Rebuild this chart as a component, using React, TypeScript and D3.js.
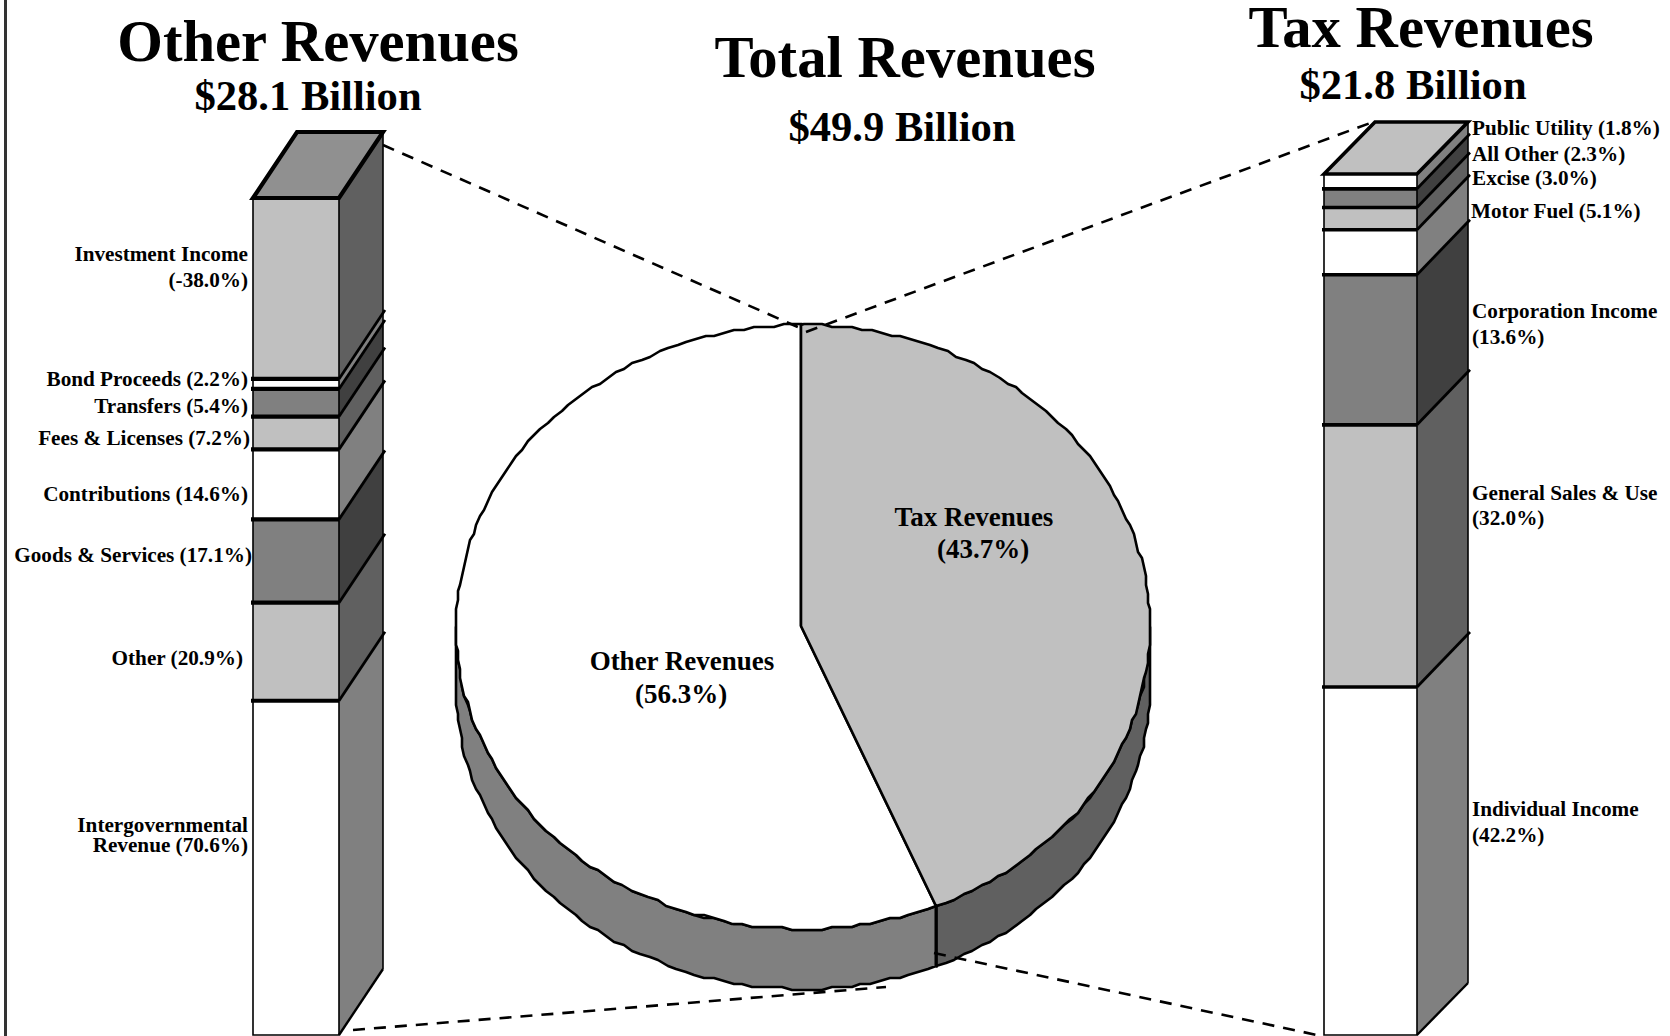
import React from "react";
import * as d3 from "d3";

const pieNames = ["Other Revenues", "Tax Revenues"];
const pieShares = [56.3, 43.7];

const otherCats = ["Investment Income", "Bond Proceeds", "Transfers", "Fees & Licenses", "Contributions", "Goods & Services", "Other", "Intergovernmental Revenue"];
// Heights as drawn in the picture; the printed labels differ slightly.
const otherDrawn = [38.0, 2.1, 5.8, 6.9, 14.7, 17.5, 20.6, 70.2];
const otherFronts = ["#c0c0c0", "#ffffff", "#808080", "#c0c0c0", "#ffffff", "#808080", "#c0c0c0", "#ffffff"];

const taxCats = ["Public Utility", "All Other", "Excise", "Motor Fuel", "Corporation Income", "General Sales & Use", "Individual Income"];
// Heights as drawn in the picture; the printed labels differ for some segments.
const taxDrawn = [1.8, 2.27, 2.7, 5.45, 18.2, 31.8, 42.2];
const taxFronts = ["#ffffff", "#808080", "#c0c0c0", "#ffffff", "#808080", "#c0c0c0", "#ffffff"];

const sideOf: Record<string, string> = { "#ffffff": "#808080", "#c0c0c0": "#606060", "#808080": "#404040" };

const FONT = "'Liberation Serif', 'Times New Roman', serif";

type Lbl = { lines: string[]; x: number; y: number[] };
const otherLabels: Lbl[] = [
  { lines: ["Investment Income", "(-38.0%)"], x: 248, y: [261, 287] },
  { lines: ["Bond Proceeds (2.2%)"], x: 248, y: [386] },
  { lines: ["Transfers (5.4%)"], x: 248, y: [413] },
  { lines: ["Fees & Licenses (7.2%)"], x: 250, y: [445] },
  { lines: ["Contributions (14.6%)"], x: 248, y: [501] },
  { lines: ["Goods & Services (17.1%)"], x: 252, y: [562] },
  { lines: ["Other (20.9%)"], x: 243, y: [665] },
  { lines: ["Intergovernmental", "Revenue (70.6%)"], x: 248, y: [832, 852] },
];
const taxLabels: Lbl[] = [
  { lines: ["Public Utility (1.8%)"], x: 1472, y: [135] },
  { lines: ["All Other (2.3%)"], x: 1472, y: [161] },
  { lines: ["Excise (3.0%)"], x: 1472, y: [185] },
  { lines: ["Motor Fuel (5.1%)"], x: 1471, y: [218] },
  { lines: ["Corporation Income", "(13.6%)"], x: 1472, y: [318, 344] },
  { lines: ["General Sales & Use", "(32.0%)"], x: 1472, y: [500, 525] },
  { lines: ["Individual Income", "(42.2%)"], x: 1472, y: [816, 842] },
];

function stackBar(shares: number[], y0: number, y1: number) {
  const y = d3.scaleLinear().domain([0, d3.sum(shares)]).range([y0, y1]);
  let c = 0;
  return shares.map((s) => {
    const a = y(c);
    c += s;
    return [a, y(c)];
  });
}

function Bar({ x0, x1, dx, dy, top, bottom, shares, fronts, topFill, rule }: any) {
  const segs = stackBar(shares, top, bottom);
  return (
    <g>
      {segs.map(([a, b]: number[], i: number) => (
        <path key={"s" + i} d={`M${x1},${a}L${x1 + dx},${a - dy}L${x1 + dx},${b - dy}L${x1},${b}Z`} fill={sideOf[fronts[i]]} stroke="none" />
      ))}
      {segs.map(([a, b]: number[], i: number) => (
        <rect key={"f" + i} x={x0} y={a} width={x1 - x0} height={b - a} fill={fronts[i]} stroke="none" />
      ))}
      <path d={`M${x0},${top}V${bottom}H${x1}V${top}`} fill="none" stroke="#000" strokeWidth={1.6} />
      <path d={`M${x1 + dx},${top - dy}V${bottom - dy}`} fill="none" stroke="#000" strokeWidth={1.6} />
      <path d={`M${x1 + dx},${bottom - dy}L${x1},${bottom}`} fill="none" stroke="#000" strokeWidth={2.4} />
      <path d={`M${x0},${top}L${x0 + dx},${top - dy}L${x1 + dx},${top - dy}L${x1},${top}Z`} fill={topFill} stroke="#000" strokeWidth={rule} strokeLinejoin="miter" />
      {segs.slice(0, -1).map(([, b]: number[], i: number) => (
        <g key={"b" + i}>
          <line x1={x0 - 2} x2={x1} y1={b} y2={b} stroke="#000" strokeWidth={rule} />
          <line x1={x1} y1={b} x2={x1 + dx + 2} y2={b - dy - 3} stroke="#000" strokeWidth={2.8} />
        </g>
      ))}
    </g>
  );
}

const cx = 803, cy = 627, rx = 347, ry = 302, depth = 60;
const spineX = cx - 2;
const rim = (t: number, off = 0): [number, number] => {
  const x = cx + rx * Math.sin(t);
  const y = cy + off - ry * Math.cos(t);
  return [Math.round(x / 2) * 2, Math.round(y / 3) * 3];
};
const arcPts = (a: number, b: number, off = 0) => {
  const n = Math.max(2, Math.round(Math.abs(b - a) / (Math.PI / 110)));
  return d3.range(n + 1).map((i) => rim(a + ((b - a) * i) / n, off));
};
const line = d3.line();

export default function App() {
  // clockwise from the top: Tax first, then Other (as in the picture)
  const taxEnd = (pieShares[1] / d3.sum(pieShares)) * 2 * Math.PI;
  const topPt = [spineX, cy - ry];
  const otherPath = line([[spineX, cy - 1], ...arcPts(taxEnd, 2 * Math.PI), topPt] as any) + "Z";
  const taxPath = line([[spineX, cy - 1], topPt, ...arcPts(0, taxEnd)] as any) + "Z";
  const wallPath = (a: number, b: number) =>
    line([...arcPts(a, b), ...arcPts(b, a, depth)] as any) + "Z";
  const jointTop = [cx + rx * Math.sin(taxEnd), cy - ry * Math.cos(taxEnd)];

  const label = (l: Lbl, k: string, anchor: string) =>
    l.lines.map((t, i) => (
      <text key={k + i} x={l.x} y={l.y[i]} textAnchor={anchor as any} fontSize={21.2}>
        {t}
      </text>
    ));

  return (
    <svg width={1670} height={1036} viewBox="0 0 1670 1036" style={{ position: "absolute", left: 0, top: 0, display: "block" }} fontFamily={FONT} fontWeight="bold" fill="#000">
      <rect width={1670} height={1036} fill="#fff" />
      <line x1={5.5} x2={5.5} y1={0} y2={1036} stroke="#333" strokeWidth={3} />

      <g textAnchor="middle">
        <text x={318} y={61} fontSize={58.7}>Other Revenues</text>
        <text x={308} y={110} fontSize={42.6}>$28.1 Billion</text>
        <text x={905} y={77} fontSize={58.7}>Total Revenues</text>
        <text x={902} y={141} fontSize={42.6}>$49.9 Billion</text>
        <text x={1421} y={47} fontSize={58.7}>Tax Revenues</text>
        <text x={1413} y={99} fontSize={42.6}>$21.8 Billion</text>
      </g>

      {/* pie */}
      <path d={wallPath(taxEnd, 1.5 * Math.PI)} fill="#808080" stroke="#000" strokeWidth={2.6} strokeLinejoin="round" />
      <path d={wallPath(0.5 * Math.PI, taxEnd)} fill="#606060" stroke="#000" strokeWidth={2.6} strokeLinejoin="round" />
      <path d={otherPath} fill="#ffffff" stroke="#000" strokeWidth={2.6} strokeLinejoin="round" />
      <path d={taxPath} fill="#c0c0c0" stroke="#000" strokeWidth={2.6} strokeLinejoin="round" />
      <line x1={jointTop[0]} y1={jointTop[1]} x2={jointTop[0]} y2={jointTop[1] + depth + 2} stroke="#000" strokeWidth={2} />

      {/* dashed leader lines */}
      <g stroke="#000" strokeWidth={2.6} strokeDasharray="12 9" fill="none">
        <line x1={383} y1={145} x2={800} y2={328} />
        <line x1={806} y1={332} x2={1373} y2={122} />
        <line x1={353} y1={1030} x2={886} y2={987} />
        <line x1={934} y1={953} x2={1317} y2={1035} />
      </g>

      <Bar x0={253} x1={339} dx={44} dy={66} top={198} bottom={1035} shares={otherDrawn} fronts={otherFronts} topFill="#909090" rule={4.2} />
      <Bar x0={1324} x1={1417} dx={51} dy={52} top={174} bottom={1035} shares={taxDrawn} fronts={taxFronts} topFill="#c0c0c0" rule={3.6} />

      {otherLabels.map((l, i) => <g key={otherCats[i]}>{label(l, "o", "end")}</g>)}
      {taxLabels.map((l, i) => <g key={taxCats[i]}>{label(l, "t", "start")}</g>)}

      <g fontSize={27}>
        <text x={974} y={526} textAnchor="middle">{pieNames[1]}</text>
        <text x={983} y={558} textAnchor="middle">({pieShares[1].toFixed(1)}%)</text>
        <text x={682} y={670} textAnchor="middle">{pieNames[0]}</text>
        <text x={681} y={703} textAnchor="middle">({pieShares[0].toFixed(1)}%)</text>
      </g>
    </svg>
  );
}
